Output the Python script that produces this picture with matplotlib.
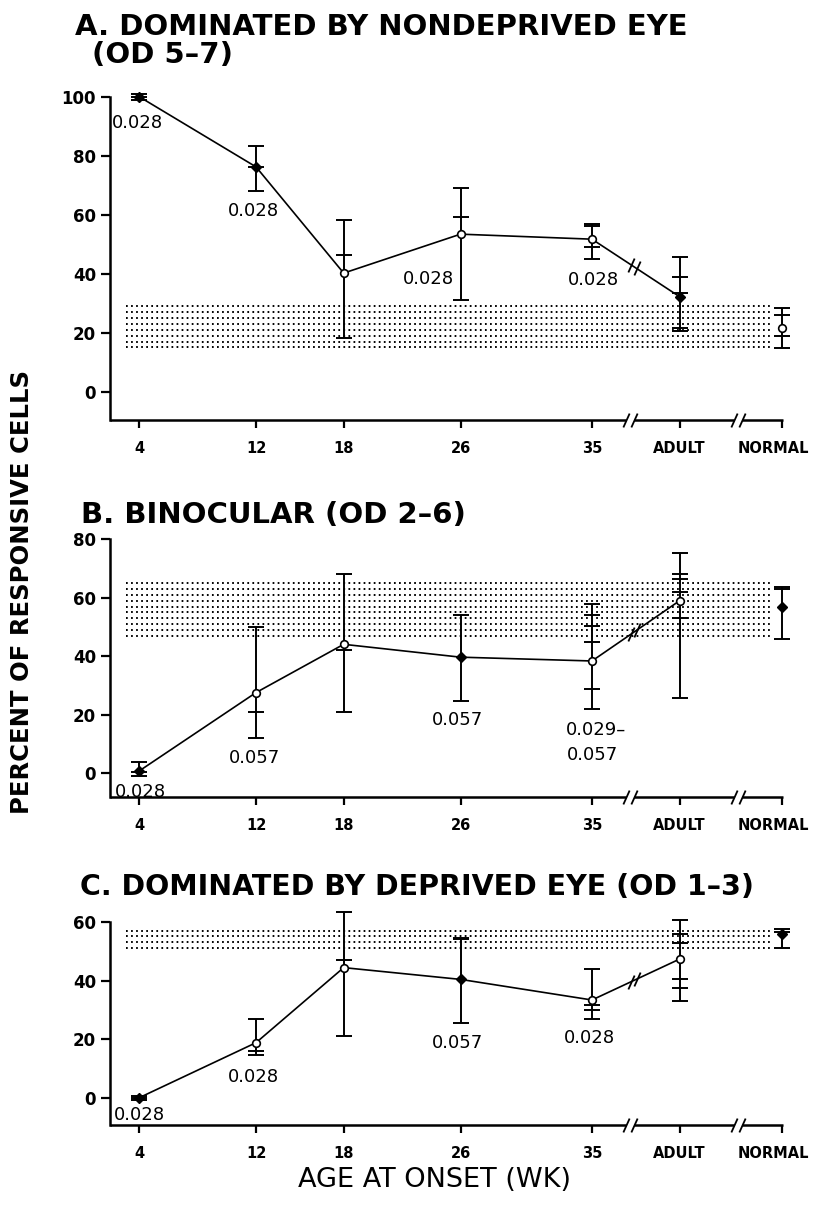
import numpy as np
import matplotlib
matplotlib.use('Agg')
from matplotlib import pyplot as plt
from matplotlib.path import Path
from matplotlib.transforms import ScaledTranslation

W, H = 815, 1209

# x positions (weeks); ADULT and NORMAL placed after the axis breaks
x_pos = [4, 12, 18, 26, 35, 41, 48]
x_labels = ['4', '12', '18', '26', '35', 'ADULT', 'NORMAL']

# A. dominated by nondeprived eye: median, range, extra quartile ticks
a_med = [100, 76.2, 40.2, 53.4, 51.7, 32.2, 21.7]
a_lo = [99, 68.2, 18.3, 31, 45, 20.5, 14.7]
a_hi = [100.8, 83.2, 58.1, 69, 57, 45.8, 28.5]
a_ticks = [[99.9], [76.2], [46.2], [59.1], [56, 49], [38.8, 33.6, 21.5], [26, 19]]
a_filled = [True, True, False, False, False, True, False]
a_band = [15, 29]
a_notes = [(3.9, 91, '0.028'), (11.8, 61.4, '0.028'), (23.8, 38.2, '0.028'), (35.1, 37.9, '0.028')]

# B. binocular
b_med = [0.8, 27.6, 44.1, 39.7, 38.4, 59, 57]
b_lo = [-1, 12, 21, 24.8, 22, 25.6, 46]
b_hi = [3.8, 50, 68, 54.1, 57.8, 75.2, 63.8]
b_ticks = [[0.3], [21], [42], [], [54, 50.3, 44.8, 28.8], [68, 66.5, 62, 53], [63]]
b_filled = [True, False, False, True, False, False, True]
b_band = [47, 65]
b_notes = [(4.05, -6.5, '0.028'), (11.9, 5.1, '0.057'), (25.8, 18.2, '0.057')]

# C. dominated by deprived eye
c_med = [0.2, 18.9, 44.4, 40.4, 33.4, 47.3, 55.8]
c_lo = [-0.7, 14.6, 21.1, 25.5, 26.9, 33, 50.9]
c_hi = [0.8, 26.8, 63.2, 54.6, 44.1, 60.6, 57.5]
c_ticks = [[0.2], [16.1], [47], [54], [31.7, 30], [55.8, 52.7, 40.4, 37.5], [56.6]]
c_filled = [True, False, False, True, False, False, True]
c_band = [51, 57]
c_notes = [(4.0, -5.8, '0.028'), (11.8, 7.3, '0.028'), (25.8, 18.8, '0.057'), (34.8, 20.4, '0.028')]

line_break = 37.7
axis_breaks = [37.6, 45.0]

slash = Path([(-0.45, -1), (0.45, 1)], [Path.MOVETO, Path.LINETO])

plt.rcParams['font.family'] = 'DejaVu Sans'
fig = plt.figure(figsize=(W / 100, H / 100), dpi=100)


def fig_axes(top_px, bottom_px, left_px=110, right_px=783.3):
    return fig.add_axes([left_px / W, 1 - bottom_px / H,
                         (right_px - left_px) / W, (bottom_px - top_px) / H])


def draw_panel(ax, med, lo, hi, ticks, filled, band, notes, ylim, yticks):
    ax.set_xlim(2.0, 48.1)
    ax.set_ylim(*ylim)
    for s in ['top', 'right', 'bottom']:
        ax.spines[s].set_visible(False)
    ax.spines['left'].set_linewidth(1.8)

    # stippled normal range
    for yy in np.arange(band[0], band[1] + 0.01, 2):
        ax.plot([3.1, 47.2], [yy, yy], color='black', lw=1.4,
                linestyle=(0, (0.9, 1.7)), zorder=1)

    # connecting line (normal not connected)
    ax.plot(x_pos[:6], med[:6], color='black', lw=1.2, zorder=2)
    yb = np.interp(line_break, x_pos[4:6], med[4:6])
    yb2 = np.interp(line_break + 0.35, x_pos[4:6], med[4:6])
    ax.plot([line_break, line_break + 0.35], [yb, yb2], ls='none', marker=slash,
            ms=10, mew=1.3, color='black', zorder=3)

    # range bars
    ax.errorbar(x_pos, med, yerr=[np.subtract(med, lo), np.subtract(hi, med)],
                fmt='none', ecolor='black', elinewidth=1.4, capsize=6,
                capthick=1.4, zorder=3, clip_on=False)
    for xv, tk in zip(x_pos, ticks):
        ax.plot([xv] * len(tk), tk, ls='none', marker='_', ms=12, mew=1.4,
                color='black', zorder=3, clip_on=False)

    for xv, yv, f in zip(x_pos, med, filled):
        if f:
            ax.plot(xv, yv, marker='D', ms=5, color='black', zorder=4, clip_on=False)
        else:
            ax.plot(xv, yv, marker='o', ms=5.5, mfc='white', mec='black', mew=1.2,
                    zorder=4, clip_on=False)

    for xv, yv, t in notes:
        ax.text(xv, yv, t, ha='center', va='center', fontsize=13)

    # broken bottom axis
    tr = ax.get_xaxis_transform()
    segs = [(2.0, axis_breaks[0] - 0.25), (axis_breaks[0] + 0.25, axis_breaks[1] - 0.25),
            (axis_breaks[1] + 0.25, 48.1)]
    for x0, x1 in segs:
        ax.plot([x0, x1], [0, 0], color='black', lw=1.8, transform=tr,
                clip_on=False, solid_capstyle='butt')
    for b in axis_breaks:
        ax.plot([b - 0.25, b + 0.25], [0, 0], ls='none', marker=slash, ms=10,
                mew=1.3, color='black', transform=tr, clip_on=False)

    ax.set_xticks(x_pos)
    ax.set_xticklabels(x_labels)
    ax.set_yticks(yticks)
    ax.tick_params(axis='y', length=6.5, width=1.6, pad=3.5, labelsize=12)
    ax.tick_params(axis='x', length=6, width=1.6, pad=9, labelsize=10.5)
    for lab in ax.get_xticklabels() + ax.get_yticklabels():
        lab.set_fontweight('bold')
    last = ax.get_xticklabels()[-1]
    last.set_transform(last.get_transform() + ScaledTranslation(-6 / 72, 0, fig.dpi_scale_trans))


ax_a = fig_axes(96.7, 420)
draw_panel(ax_a, a_med, a_lo, a_hi, a_ticks, a_filled, a_band, a_notes,
           (-9.6, 100), [0, 20, 40, 60, 80, 100])

ax_b = fig_axes(539.3, 796.7)
draw_panel(ax_b, b_med, b_lo, b_hi, b_ticks, b_filled, b_band, b_notes,
           (-8, 80), [0, 20, 40, 60, 80])
ax_b.text(33.2, 14.8, '0.029–', ha='left', va='center', fontsize=13)
ax_b.text(33.3, 6.3, '0.057', ha='left', va='center', fontsize=13)

ax_c = fig_axes(921.7, 1124.8)
draw_panel(ax_c, c_med, c_lo, c_hi, c_ticks, c_filled, c_band, c_notes,
           (-9, 60), [0, 20, 40, 60])


def ftext(xp, yp, s, **kw):
    fig.text(xp / W, 1 - yp / H, s, **kw)


ftext(75, 35, 'A. DOMINATED BY NONDEPRIVED EYE', fontsize=21, fontweight='bold', va='baseline')
ftext(92, 63, '(OD 5–7)', fontsize=21, fontweight='bold', va='baseline')
ftext(81, 523, 'B. BINOCULAR (OD 2–6)', fontsize=21, fontweight='bold', va='baseline')
ftext(80, 895, 'C. DOMINATED BY DEPRIVED EYE (OD 1–3)', fontsize=20.5, fontweight='bold', va='baseline')
ftext(22, 592, 'PERCENT OF RESPONSIVE CELLS', fontsize=17.5, fontweight='bold', rotation=90,
      ha='center', va='center')
ftext(434, 1180, 'AGE AT ONSET (WK)', fontsize=19.5, ha='center', va='center')

fig.savefig('out.png', dpi=100)
